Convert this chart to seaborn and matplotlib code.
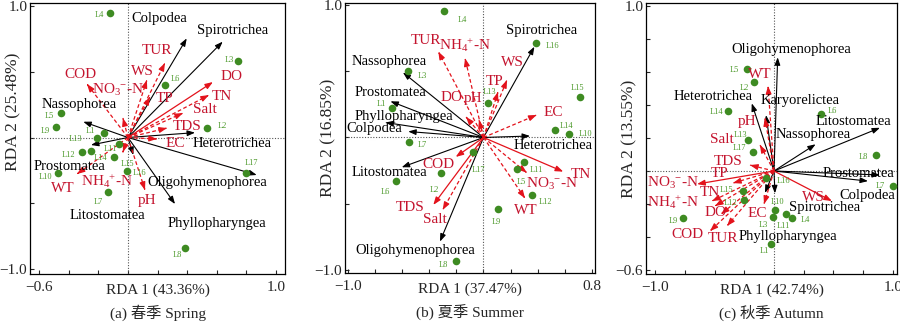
import numpy as np
import pandas as pd
import matplotlib
matplotlib.use("Agg")
import matplotlib.pyplot as plt
import seaborn as sns

# ---------------- data ----------------
sites = ["L%d" % i for i in range(1, 18)]

# Panel (a) Spring
a_site_x = [-0.160, 0.534, 0.745, -0.122, -0.453, 0.250, -0.137, 0.385, -0.489, -0.475,
            -0.059, -0.313, -0.211, -0.093, -0.009, -0.252, 0.797]
a_site_y = [0.032, 0.075, 0.582, 0.949, 0.184, 0.399, -0.417, -0.838, 0.080, -0.272,
            -0.049, -0.108, -0.001, -0.150, -0.251, -0.100, -0.267]
a_species = ["Colpodea", "Spirotrichea", "Nassophorea", "Heterotrichea", "Prostomatea",
             "Litostomatea", "Oligohymenophorea", "Phyllopharyngea"]
a_sp_x = [0.397, 0.640, -0.302, 0.453, -0.250, 0.036, 0.870, 0.318]
a_sp_y = [0.754, 0.729, 0.120, 0.037, -0.057, -0.133, -0.285, -0.506]
a_env = ["TUR", "WS", "TP", "NO$_3$$^{-}$-N", "COD", "DO", "TN", "Salt", "TDS", "EC",
         "WT", "NH$_4$$^{+}$-N", "pH"]
a_env_x = [0.250, 0.128, 0.149, -0.034, -0.277, 0.574, 0.547, 0.372, 0.264, 0.196,
           -0.345, -0.034, 0.115]
a_env_y = [0.567, 0.437, 0.308, 0.148, 0.407, 0.422, 0.323, 0.186, 0.072, -0.011,
           -0.278, -0.110, -0.399]

# Panel (b) Summer
b_site_x = [-0.673, -0.313, -0.555, -0.291, 0.249, -0.647, -0.547, -0.203, 0.109, 0.633,
            0.299, 0.355, 0.031, 0.527, 0.712, 0.387, -0.075]
b_site_y = [0.220, -0.266, 0.502, 0.955, -0.240, -0.326, -0.036, -0.932, -0.540, 0.024,
            -0.183, -0.434, 0.263, 0.057, 0.308, 0.711, -0.112]
b_species = ["Spirotrichea", "Nassophorea", "Prostomatea", "Phyllopharyngea", "Colpodea",
             "Heterotrichea", "Litostomatea", "Oligohymenophorea"]
b_sp_x = [0.375, -0.594, -0.686, -0.723, -0.555, 0.343, -0.603, -0.321]
b_sp_y = [0.685, 0.491, 0.273, 0.113, 0.045, 0.011, -0.225, -0.786]
b_env = ["TUR", "NH$_4$$^{+}$-N", "WS", "TP", "DO", "pH", "EC", "NO$_3$$^{-}$-N", "WT",
         "TN", "COD", "TDS", "Salt"]
b_env_x = [-0.333, -0.136, 0.173, 0.107, -0.129, -0.033, 0.392, 0.319, 0.306, 0.588,
           -0.205, -0.370, -0.301]
b_env_y = [0.648, 0.598, 0.434, 0.343, 0.155, 0.132, 0.170, -0.266, -0.459, -0.258,
           -0.147, -0.509, -0.547]

# Panel (c) Autumn
c_site_x = [-0.025, -0.166, -0.011, 0.154, -0.229, 0.392, 0.997, 0.855, -0.762, 0.008,
            0.101, -0.250, -0.216, -0.384, -0.263, -0.067, -0.179]
c_site_y = [-0.444, 0.541, -0.277, -0.287, 0.616, 0.344, -0.091, 0.097, -0.287, -0.236,
            -0.262, -0.176, 0.188, 0.364, -0.119, -0.044, 0.113]
c_species = ["Oligohymenophorea", "Heterotrichea", "Karyorelictea", "Nassophorea",
             "Litostomatea", "Prostomatea", "Colpodea", "Spirotrichea", "Phyllopharyngea"]
c_sp_x = [0.031, -0.187, -0.067, 0.350, 0.891, 0.891, 0.790, 0.008, -0.076]
c_sp_y = [0.689, 0.410, 0.339, 0.162, 0.262, -0.024, -0.061, -0.135, -0.133]
c_env = ["WT", "pH", "Salt", "TDS", "TP", "NO$_3$$^{-}$-N", "TN", "NH$_4$$^{+}$-N", "DO",
         "COD", "TUR", "EC", "WS"]
c_env_x = [-0.050, -0.076, -0.118, -0.202, -0.345, -0.647, -0.521, -0.496, -0.445,
           -0.538, -0.395, -0.084, 0.487]
c_env_y = [0.515, 0.321, 0.158, 0.036, -0.073, -0.079, -0.182, -0.212, -0.261,
           -0.364, -0.333, -0.200, -0.182]

# ---------------- layout / style ----------------
a_solid = [False, False, False, False, False, True, False, False, False, False, False, False, False]
b_solid = [False, False, False, False, False, False, False, False, False, True, True, True, False]
c_solid = [False, False, False, False, False, True, False, False, False, False, False, False, True]

# label offsets in pixels (dx right, dy down)
a_site_off = [(-14, -2), (15, -2), (-9, -1), (-11, 2), (-12, 3), (10, -6), (-9, 10), (-8, 7),
              (-10, 4), (-12, 4), (-9, 5), (-13, 3), (-21, 1), (-14, 1), (1, -7), (49, 22), (6, -10)]
b_site_off = [(-11, -4), (-7, 17), (14, 5), (18, 9), (4, 13), (-10, 11), (13, 3), (-13, 4),
              (-2, 13), (16, 0), (12, 8), (14, 7), (2, -11), (12, -4), (-3, -9), (17, 3), (5, 18)]
c_site_off = [(-7, 7), (-10, 6), (-9, 8), (13, 2), (-12, 1), (12, -3), (-12, 0), (-12, 2),
              (-10, 3), (3, -8), (-3, 12), (-14, 3), (-8, -5), (-12, 1), (-16, -1), (17, 3), (-13, -4)]
a_sp_off = [(-27, -20), (10, -11), (-4, -17), (37, 11), (-21, 21), (-26, 60), (-49, 8), (42, 19)]
b_sp_off = [(7, -16), (-14, -11), (0, -9), (18, -6), (-34, -3), (23, 9), (-12, 5), (-25, 9)]
c_sp_off = [(14, -8), (-39, -7), (34, -15), (-2, -10), (-27, -6), (-22, -1), (-1, 14), (50, 14), (23, 44)]
a_env_off = [(-8, -12), (-4, -9), (15, 1), (-5, -28), (-7, -9), (19, -6), (13, 1), (22, -4),
             (20, -2), (18, 5), (-14, 14), (-16, 29), (2, 11)]
b_env_off = [(-12, -11), (0, -13), (5, -17), (-3, -11), (-14, -19), (-6, -21), (17, -2),
             (25, 11), (1, 12), (18, 3), (-17, 8), (-23, 3), (-8, 10)]
c_env_off = [(-8, -12), (-18, 3), (-38, -5), (-22, -4), (-13, -10), (-24, -1), (-2, -9),
             (-42, -4), (-6, -2), (-23, 3), (-4, 13), (-7, 9), (-19, -4)]

sns.set_theme(style="ticks")
plt.rcParams["font.family"] = ["Liberation Serif", "Noto Sans CJK SC", "DejaVu Sans"]
plt.rcParams["mathtext.fontset"] = "custom"
plt.rcParams["mathtext.rm"] = "Liberation Serif"
plt.rcParams["mathtext.it"] = "Liberation Serif:italic"
plt.rcParams["mathtext.default"] = "rm"

GREEN = "#3e8b22"
GREEN_T = "#4d9a2c"
RED_A = "#e3121b"
RED_T = "#c4142e"
HEAD = "-|>,head_length=0.38,head_width=0.14"

fig = plt.figure(figsize=(9, 3.22), dpi=100)

panels = [
    dict(pos=[30 / 900, 48 / 322, 255 / 900, 271 / 322], xlim=(-0.662, 1.061), ylim=(-1.038, 1.023),
         xt=np.round(np.arange(-0.6, 1.01, 0.2), 2), yt=[-1.0, -0.5, 0.0, 0.5, 1.0],
         xlab="RDA 1 (43.36%)", ylab="RDA 2 (25.48%)", ylab_y=0.6,
         cap="(a) 春季 Spring",
         sx=a_site_x, sy=a_site_y, soff=a_site_off,
         sp=a_species, spx=a_sp_x, spy=a_sp_y, spoff=a_sp_off,
         env=a_env, ex=a_env_x, ey=a_env_y, eoff=a_env_off, solid=a_solid),
    dict(pos=[345 / 900, 49 / 322, 250 / 900, 270 / 322], xlim=(-1.021, 0.822), ylim=(-1.023, 1.015),
         xt=np.round(np.arange(-1.0, 0.81, 0.2), 2), yt=[-1.0, -0.5, 0.0, 0.5, 1.0],
         xlab="RDA 1 (37.47%)", ylab="RDA 2 (16.85%)", ylab_y=0.5,
         cap="(b) 夏季 Summer",
         sx=b_site_x, sy=b_site_y, soff=b_site_off,
         sp=b_species, spx=b_sp_x, spy=b_sp_y, spoff=b_sp_off,
         env=b_env, ex=b_env_x, ey=b_env_y, eoff=b_env_off, solid=b_solid),
    dict(pos=[646 / 900, 48 / 322, 251 / 900, 271 / 322], xlim=(-1.076, 1.034), ylim=(-0.624, 1.018),
         xt=np.round(np.arange(-1.0, 1.01, 0.25), 2), yt=np.round(np.arange(-0.6, 1.01, 0.2), 2),
         xlab="RDA 1 (42.74%)", ylab="RDA 2 (13.55%)", ylab_y=0.5,
         cap="(c) 秋季 Autumn",
         sx=c_site_x, sy=c_site_y, soff=c_site_off,
         sp=c_species, spx=c_sp_x, spy=c_sp_y, spoff=c_sp_off,
         env=c_env, ex=c_env_x, ey=c_env_y, eoff=c_env_off, solid=c_solid),
]


def fmt(v):
    s = "%.1f" % v
    return s.replace("-", "\u2212")


def draw_arrow(ax, x, y, color, ls, lw=0.9):
    if ls == "-":
        ax.annotate("", xy=(x, y), xytext=(0, 0),
                    arrowprops=dict(arrowstyle=HEAD, color=color, lw=lw, shrinkA=0, shrinkB=0),
                    zorder=2)
    else:
        ax.plot([0, x * 0.97], [0, y * 0.97], color=color, lw=lw, ls=(0, (3, 2)), zorder=2)
        ax.annotate("", xy=(x, y), xytext=(x * 0.98, y * 0.98),
                    arrowprops=dict(arrowstyle=HEAD, color=color, lw=lw, shrinkA=0, shrinkB=0),
                    zorder=2)


for p in panels:
    ax = fig.add_axes(p["pos"])
    ax.set_xlim(*p["xlim"])
    ax.set_ylim(*p["ylim"])
    ax.axhline(0, color="#555555", lw=0.8, ls=(0, (1, 1.5)), zorder=1)
    ax.axvline(0, color="#555555", lw=0.8, ls=(0, (1, 1.5)), zorder=1)

    # species arrows
    for name, x, y, off in zip(p["sp"], p["spx"], p["spy"], p["spoff"]):
        draw_arrow(ax, x, y, "black", "-", lw=0.8)
        ax.annotate(name, xy=(x, y), xytext=(off[0], -off[1]), textcoords="offset pixels",
                    ha="center", va="center", fontsize=10.5, color="black", zorder=5)
    # environment arrows
    for name, x, y, off, solid in zip(p["env"], p["ex"], p["ey"], p["eoff"], p["solid"]):
        draw_arrow(ax, x, y, RED_A, "-" if solid else "--")
        ax.annotate(name, xy=(x, y), xytext=(off[0], -off[1]), textcoords="offset pixels",
                    ha="center", va="center", fontsize=11, color=RED_T, zorder=5)
    # sites
    df = pd.DataFrame({"x": p["sx"], "y": p["sy"], "site": sites})
    sns.scatterplot(data=df, x="x", y="y", ax=ax, color=GREEN, s=30, linewidth=0, zorder=4)
    for name, x, y, off in zip(sites, p["sx"], p["sy"], p["soff"]):
        ax.annotate(name, xy=(x, y), xytext=(off[0], -off[1]), textcoords="offset pixels",
                    ha="center", va="center", fontsize=6, color=GREEN_T, zorder=5)

    xt = p["xt"]
    yt = p["yt"]
    ax.set_xticks(xt)
    ax.set_xticklabels([fmt(v) if i in (0, len(xt) - 1) else "" for i, v in enumerate(xt)])
    ax.set_yticks(yt)
    ax.set_yticklabels([fmt(v) if i in (0, len(yt) - 1) else "" for i, v in enumerate(yt)])
    ax.tick_params(direction="in", length=3, width=0.8, labelsize=11,
                   top=False, right=False)
    ax.tick_params(axis="x", pad=5)
    ax.tick_params(axis="y", pad=2)
    for s in ax.spines.values():
        s.set_linewidth(0.9)
        s.set_color("black")
        s.set_visible(True)
    ax.set_xlabel(p["xlab"], fontsize=11)
    ax.xaxis.set_label_coords(0.5, -0.035)
    ax.set_ylabel(p["ylab"], fontsize=12.5)
    ax.yaxis.set_label_coords(-0.035, p["ylab_y"])
    fig.text(p["pos"][0] + p["pos"][2] / 2, 9 / 322, p["cap"], ha="center", va="center",
             fontsize=11)

fig.savefig("out.png", dpi=100)
